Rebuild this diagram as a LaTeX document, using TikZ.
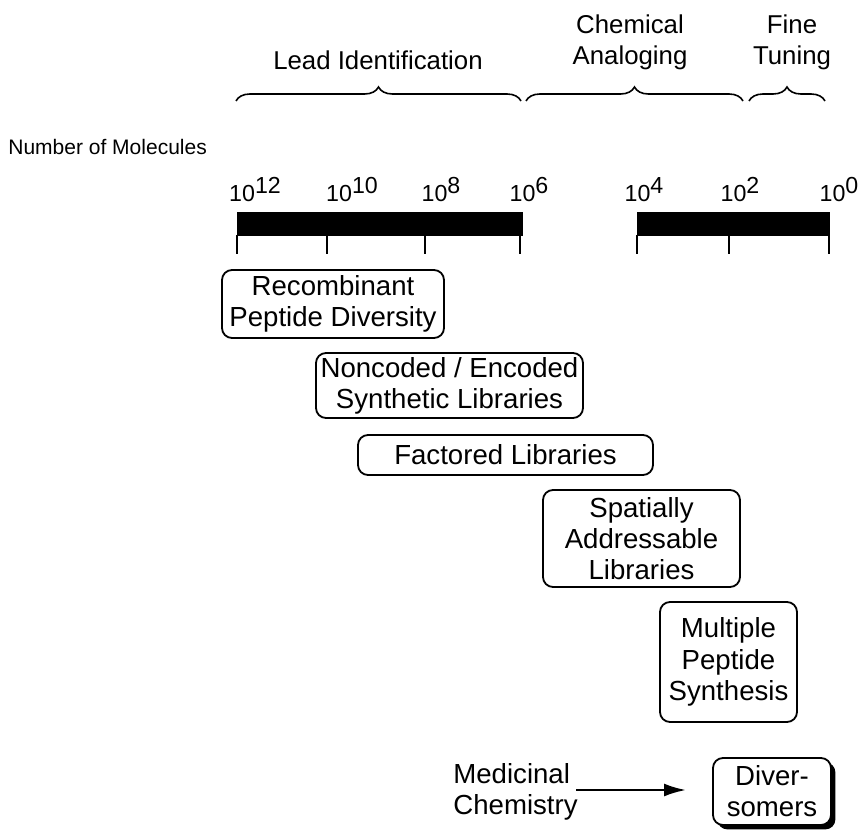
\documentclass[tikz,border=0pt]{standalone}
\usepackage{fontspec}
\setmainfont{Liberation Sans}
\usetikzlibrary{decorations.pathreplacing,arrows.meta,shadows}
\newcommand{\tenp}[1]{10\raisebox{3.6pt}{#1}}
\begin{document}
\begin{tikzpicture}[x=0.5pt,y=-0.5pt,
  stage/.style={font=\fontsize{12.9}{15.5}\selectfont, align=center, inner sep=0pt},
  brc/.style={decorate, decoration={brace, amplitude=7pt}, line width=0.8pt},
  ax/.style={font=\fontsize{11.6}{13}\selectfont, anchor=base, inner sep=0pt},
  tick/.style={line width=0.9pt},
  bar/.style={fill=black, draw=black},
  lib/.style={draw, line width=0.9pt, rounded corners=5pt, align=center, inner sep=0pt,
    font=\fontsize{13.8}{15.6}\selectfont},
  shad/.style={drop shadow={shadow xshift=2.2pt, shadow yshift=-2.2pt, fill=black, opacity=1}}
]
\useasboundingbox (0,0) rectangle (862,830);
% stage labels
\node[stage] (lead) at (378,60) {Lead Identification};
\node[stage] (chem) at (630,42) {Chemical\\Analoging};
\node[stage] (fine) at (792,42) {Fine\\Tuning};
% braces
\coordinate (b1a) at (236,101); \coordinate (b1b) at (521,101);
\coordinate (b2a) at (526,101); \coordinate (b2b) at (743,101);
\coordinate (b3a) at (749,101); \coordinate (b3b) at (825,101);
\draw[brc] (b1a) -- (b1b);
\draw[brc] (b2a) -- (b2b);
\draw[brc] (b3a) -- (b3b);
% number of molecules
\node[font=\fontsize{10.5}{12}\selectfont, anchor=base west, inner sep=0pt] (nm) at (8,154) {Number of Molecules};
% axis labels
\node[ax] (l12) at (255,201) {\tenp{12}};
\node[ax] (l10) at (352,201) {\tenp{10}};
\node[ax] (l8) at (441,201) {\tenp{8}};
\node[ax] (l6) at (529,201) {\tenp{6}};
\node[ax] (l4) at (644,201) {\tenp{4}};
\node[ax] (l2) at (740,201) {\tenp{2}};
\node[ax] (l0) at (839,201) {\tenp{0}};
% bars
\draw[bar] (237,212) rectangle (522,235);
\draw[bar] (637,212) rectangle (829,235);
\foreach \x in {237,327,425,520,637,729,829}{
  \draw[tick] (\x,235) -- (\x,254);
}
% library boxes
\node[lib, minimum width=111pt, minimum height=34pt] (rec) at (333,304) {Recombinant\\Peptide Diversity};
\node[lib, minimum width=133.5pt, minimum height=32.5pt] (nonc) at (449.5,385.5) {Noncoded / Encoded\\Synthetic Libraries};
\node[lib, minimum width=147.5pt, minimum height=20pt] (fact) at (505.5,455) {Factored Libraries};
\node[lib, minimum width=98.5pt, minimum height=48.5pt] (spat) at (641.5,538.5) {Spatially\\Addressable\\Libraries};
\node[lib, minimum width=68.5pt, minimum height=60pt] (mult) at (728.5,662) {Multiple\\Peptide\\Synthesis};
\node[lib, fill=white, shad, minimum width=59pt, minimum height=33.5pt] (div) at (772,791.5) {Diver-\\somers};
% medicinal chemistry
\node[font=\fontsize{13.8}{15.6}\selectfont, align=left, anchor=west, inner sep=0pt] (med) at (453,792) {Medicinal\\Chemistry};
\coordinate (arrStart) at (576,790);
\coordinate (arrEnd) at (686,790);
\draw[line width=1.2pt, -{Latex[length=11pt,width=6.5pt]}] (arrStart) -- (arrEnd);
\end{tikzpicture}
\end{document}
